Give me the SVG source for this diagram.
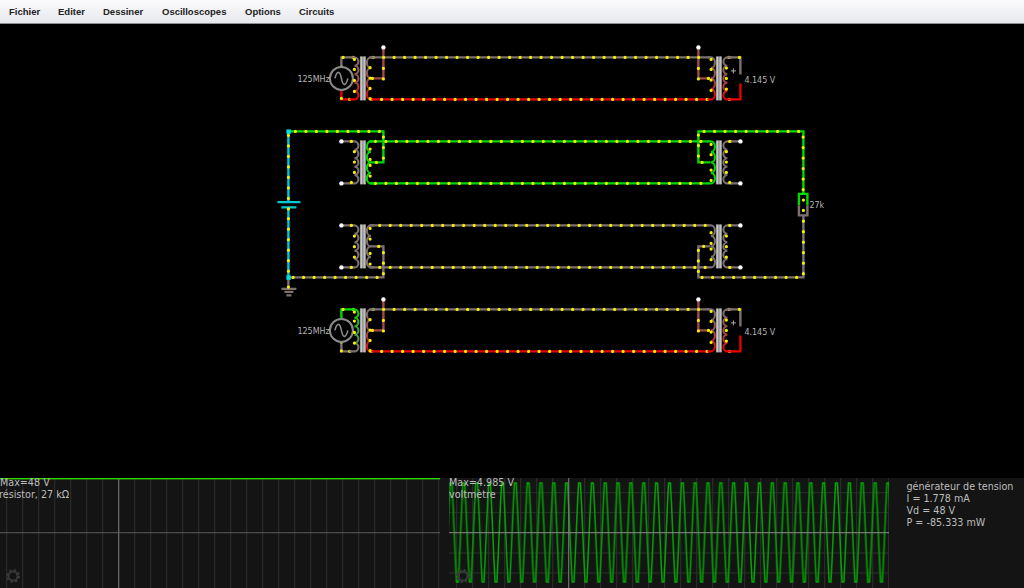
<svg xmlns="http://www.w3.org/2000/svg" xmlns:xlink="http://www.w3.org/1999/xlink" width="1024" height="588" viewBox="0 0 1024 588">
<style>
text{font-family:"DejaVu Sans",sans-serif}
.menu{font:bold 9.5px "Liberation Sans",Arial,sans-serif;fill:#222}
.lab{font-size:8px;fill:#b4b4b4}
.sc{font-size:9.6px;fill:#bdbdbd}
.w,.c{fill:none;stroke-width:2.4}
.c{stroke-width:2.1}
.gy{stroke:#7d7070}.gn{stroke:#00d800}.rd{stroke:#e60000}.br{stroke:#a04a4a}.cy{stroke:#00c8d2}
.d{fill:none;stroke:#f4f000;stroke-width:3.2;stroke-linecap:round;stroke-dasharray:0 10.5}
.p{fill:none;stroke:#f4f000;stroke-width:3.2;stroke-linecap:round}
.e{fill:#fff}
.src{fill:#000;stroke:#8a8a8a;stroke-width:2}
.sin{fill:none;stroke:#8a8a8a;stroke-width:1.6}
.gear{fill:none;stroke:#383838;stroke-width:2}
</style>
<defs>
<linearGradient id="mn" x1="0" y1="0" x2="0" y2="1"><stop offset="0" stop-color="#fbfbfc"/><stop offset="1" stop-color="#e6e7ec"/></linearGradient>
<linearGradient id="gr" x1="0" y1="0" x2="0" y2="1"><stop offset="0" stop-color="#7d7070"/><stop offset=".55" stop-color="#a04a4a"/><stop offset="1" stop-color="#e60000"/></linearGradient>
<linearGradient id="gg" x1="0" y1="0" x2="0" y2="1"><stop offset="0" stop-color="#00d800"/><stop offset="1" stop-color="#7d7070"/></linearGradient>
<linearGradient id="core" x1="0" y1="0" x2="1" y2="0"><stop offset="0" stop-color="#8c8c8c"/><stop offset=".3" stop-color="#cfcfcf"/><stop offset=".5" stop-color="#7a7a7a"/><stop offset=".7" stop-color="#cfcfcf"/><stop offset="1" stop-color="#8c8c8c"/></linearGradient>
<rect id="cr" x="-0.5" y="-1" width="6" height="44" fill="url(#core)"/>
<path id="ca" d="M-11 0H-6a4 4.2 0 0 1 0 8.4a4 4.2 0 0 1 0 8.4a4 4.2 0 0 1 0 8.4a4 4.2 0 0 1 0 8.4a4 4.2 0 0 1 0 8.4H-11"/>
<path id="cb" d="M14 0H10.500a4 5.250 0 0 0 0 10.500a4 5.250 0 0 0 0 10.500a4 5.250 0 0 0 0 10.500a4 5.250 0 0 0 0 10.500H14"/>
<g id="src"><circle r="11.500" class="src"/><path class="sin" d="M-6.500 0C-4.500-8-1.500-8 0 0S4.500 8 6.500 0"/></g>
<pattern id="g1" patternUnits="userSpaceOnUse" x="6.200" y="0" width="16" height="10"><rect width="1" height="10" fill="#2e2e2e"/></pattern>
<pattern id="g2" patternUnits="userSpaceOnUse" x="8.200" y="0" width="16" height="10"><rect width="1" height="10" fill="#2e2e2e"/></pattern>
<pattern id="wv" patternUnits="userSpaceOnUse" x="444.600" y="478" width="12.850" height="110"><path d="M-1 104H.9L2 82 4.400 27 5.500 5H7.350L8.450 27 10.850 82 11.950 104H14" fill="none" stroke="#00a800" stroke-width="1.500"/></pattern>
<g id="gr1"><circle r="4.500" class="gear"/><circle r="6" class="gear" stroke-dasharray="2.400 2.310" stroke-width="2.400"/></g>
</defs>

<rect width="1024" height="588" fill="#000"/>

<g id="menu">
<rect width="1024" height="24" fill="url(#mn)"/>
<rect y="23" width="1024" height="1" fill="#8e8e8e"/>
<text class="menu" x="9" y="15">Fichier</text>
<text class="menu" x="58" y="15">Editer</text>
<text class="menu" x="103" y="15">Dessiner</text>
<text class="menu" x="162" y="15">Oscilloscopes</text>
<text class="menu" x="245" y="15">Options</text>
<text class="menu" x="299" y="15">Circuits</text>
</g>

<g id="connectors" transform="translate(.4 .4)">
<path class="w gy" d="M350 57H341V67M369 57H709M729 57H740V74"/>
<path class="w rd" d="M341 89V99H351M369 99H709M729 99H740V83"/>
<path class="w br" d="M383 47V78H370M698 47V78H710"/>
<path class="w gn" d="M288 131H383V162H370M369 141H708M369 183H708M698 141V162H710M698 141V131H803V193"/>
<path class="w gy" d="M341 141H350M341 183H350M729 141H740M729 183H740"/>
<path class="w gy" d="M341 225H350M341 267H350M369 225H708M369 267H708M729 225H740M729 267H740M370 246H383V277H288M710 246H698V277H803V215M288 277V288"/>
<path class="w cy" d="M288 131V201M288 207V277M277 201.700H300M281 207H296"/>
<path class="w gy" d="M281 288.500H296M284 291.500H293M286 295H291"/>
<path class="w gn" d="M350 309H341V319"/>
<path class="w gy" d="M341 341V351H351M369 309H709M729 309H740V326"/>
<path class="w rd" d="M369 351H709M729 351H740V335"/>
<path class="w br" d="M383 299V330H370M698 299V330H710"/>
<path class="d" d="M372.700 57H700M370.700 99H710M372.700 309H700M370.700 351H710"/>
<path class="d" d="M295 131H380M383 136.700V160M375 141H708M375 183H708"/>
<path class="d" d="M703.700 131H800M802.700 136.700V192M288 135V210M288 218.300V276"/>
<path class="d" d="M292.700 277H380M383 273.300V250M379.300 225H708M379.300 267H708"/>
<path class="d" d="M701.700 277H800M803 273.300V218"/>
<path class="d" d="M383 68V80M698 68V80M383 320V332M698 320V332M698 134.700V158M698 250V273"/>
<path class="p" d="M342.700 57h0M352.700 57h0M341 66.700h0M341 98h0M349.300 99h0M372 78h0M708 78h0M728.500 57h0M739 57h0M729 99h0M342.700 309h0M352.700 309h0M341 341.700h0M341 350.500h0M349.300 351h0M372 330h0M708 330h0M728.500 309h0M739 309h0M729 351h0M376 162h0M701.700 162h0M378.300 246h0M703.300 246h0M288 286.700h0"/>
</g>

<g id="nodes" transform="translate(.4 .4)">
<g id="source1" transform="translate(341 78)"><use href="#src"/></g>
<g id="source2" transform="translate(341 330)"><use href="#src"/></g>

<g id="transformer1a" transform="translate(360 57)"><use href="#cr"/><use href="#ca" class="c" stroke="url(#gr)"/><use href="#cb" class="c" stroke="url(#gr)"/><path class="p" d="M-6 2h0M-6 12h0M-6 23h0M-6 34h0M9.700 10.300h0M9.700 20.700h0M9.700 31h0M9.700 41.300h0"/></g>
<g id="transformer1b" transform="translate(716 57)"><use href="#cr"/><g transform="translate(5 0) scale(-1 1)"><use href="#ca" class="c" stroke="url(#gr)"/><use href="#cb" class="c" stroke="url(#gr)"/></g><path class="p" d="M-5.300 2h0M-5.300 12h0M-5.300 22.700h0M-5.300 33h0M10 10.700h0M10 21h0M10 31.700h0"/></g>

<g id="transformer2a" transform="translate(360 141)"><use href="#cr"/><use href="#ca" class="c gy"/><use href="#cb" class="c gn"/><path class="p" d="M-9 0h0M-9 41h0M-6 10.300h0M-6 20.700h0M-6 31h0M9.700 7.700h0M9.700 18h0M9.700 24h0M9.700 34.700h0"/></g>
<g id="transformer2b" transform="translate(716 141)"><use href="#cr"/><g transform="translate(5 0) scale(-1 1)"><use href="#ca" class="c gy"/><use href="#cb" class="c gn"/></g><path class="p" d="M-5.300 3h0M-5.300 13.300h0M-5.300 28.700h0M-5.300 39h0M10 10.300h0M10 20.700h0M10 31h0M13.300 0h0M13.300 41h0"/></g>

<g id="transformer3a" transform="translate(360 225)"><use href="#cr"/><use href="#ca" class="c gy"/><use href="#cb" class="c gy"/><path class="p" d="M-9 0h0M-9 42h0M-6 10.700h0M-6 21.300h0M-6 31.700h0M9.700 3h0M9.700 13.700h0M9.700 28h0M9.700 38.700h0"/></g>
<g id="transformer3b" transform="translate(716 225)"><use href="#cr"/><g transform="translate(5 0) scale(-1 1)"><use href="#ca" class="c gy"/><use href="#cb" class="c gy"/></g><path class="p" d="M-5.300 7.300h0M-5.300 18h0M-5.300 23.700h0M-5.300 34.300h0M10 10.700h0M10 21.300h0M10 31.700h0M13.300 0h0M13.300 42h0"/></g>

<g id="transformer4a" transform="translate(360 309)"><use href="#cr"/><use href="#ca" class="c" stroke="url(#gg)"/><use href="#cb" class="c" stroke="url(#gr)"/><path class="p" d="M-6 2.700h0M-6 11.700h0M-6 23h0M-6 33.700h0M9.700 10.300h0M9.700 20.700h0M9.700 31h0M9.700 41.300h0"/></g>
<g id="transformer4b" transform="translate(716 309)"><use href="#cr"/><g transform="translate(5 0) scale(-1 1)"><use href="#ca" class="c" stroke="url(#gr)"/><use href="#cb" class="c" stroke="url(#gr)"/></g><path class="p" d="M-5.300 2h0M-5.300 12h0M-5.300 22.700h0M-5.300 33h0M10 10.700h0M10 21h0M10 31.700h0"/></g>

<g id="resistor">
<path class="w gn" d="M798.500 205V193.500H807V205"/>
<path class="w gy" d="M798.500 205V215H807V205"/>
<path class="p" d="M803 199.700h0M803 210h0"/>
<text class="lab" x="809" y="208">27k</text>
</g>

<g id="ends">
<circle class="e" cx="383" cy="47" r="2.200"/><circle class="e" cx="698" cy="47" r="2.200"/>
<circle class="e" cx="383" cy="299" r="2.200"/><circle class="e" cx="698" cy="299" r="2.200"/>
<circle class="e" cx="341" cy="141" r="2.200"/><circle class="e" cx="341" cy="183" r="2.200"/>
<circle class="e" cx="740" cy="141" r="2.200"/><circle class="e" cx="740" cy="183" r="2.200"/>
<circle class="e" cx="341" cy="225" r="2.200"/><circle class="e" cx="341" cy="267" r="2.200"/>
<circle class="e" cx="740" cy="225" r="2.200"/><circle class="e" cx="740" cy="267" r="2.200"/>
<rect x="286" y="129" width="4.400" height="4.400" fill="#00e0e8"/>
<rect x="286" y="275" width="4.400" height="4.400" fill="#00e0e8"/>
</g>

<g id="labels">
<text class="lab" x="297" y="82">125MHz</text>
<text class="lab" x="297" y="334">125MHz</text>
<text class="lab" x="744" y="83">4.145 V</text>
<text class="lab" x="744" y="335">4.145 V</text>
<path d="M730.500 70.500H735.500M733 68V73M730.500 322.500H735.500M733 320V325" stroke="#aaa" fill="none"/>
</g>
</g>

<g id="scope1">
<rect y="478" width="1024" height="110" fill="#141414"/>
<rect x="0" y="478" width="440" height="110" fill="url(#g1)"/>
<rect x="118.200" y="478" width="1" height="110" fill="#7a7a7a"/>
<rect x="0" y="532.200" width="440" height="1" fill="#5a5a5a"/>
<rect x="0" y="478" width="440" height="1.400" fill="#2fd400"/>
<text class="sc" x="0" y="485.500">Max=48 V</text>
<text class="sc" x="-1" y="497.500">résistor, 27 kΩ</text>
<use href="#gr1" x="13" y="576"/>
</g>

<g id="scope2">
<rect x="449" y="478" width="440" height="110" fill="url(#g2)"/>
<path d="M449 492.700H889M449 512.700H889M449 553H889M449 573H889" stroke="#2e2e2e" fill="none"/>
<rect x="449" y="478" width="440" height="110" fill="url(#wv)"/>
<rect x="568.200" y="478" width="1" height="110" fill="#7a7a7a"/>
<rect x="449" y="532.200" width="440" height="1" fill="#8a8a8a"/>
<text class="sc" x="449" y="485.500">Max=4.985 V</text>
<text class="sc" x="449" y="497.500">voltmètre</text>
<use href="#gr1" x="463" y="576"/>
</g>

<g id="info">
<text class="sc" x="906.500" y="489.500">générateur de tension</text>
<text class="sc" x="906.500" y="501.700">I = 1.778 mA</text>
<text class="sc" x="906.500" y="513.500">Vd = 48 V</text>
<text class="sc" x="906.500" y="525.700">P = -85.333 mW</text>
</g>
</svg>
